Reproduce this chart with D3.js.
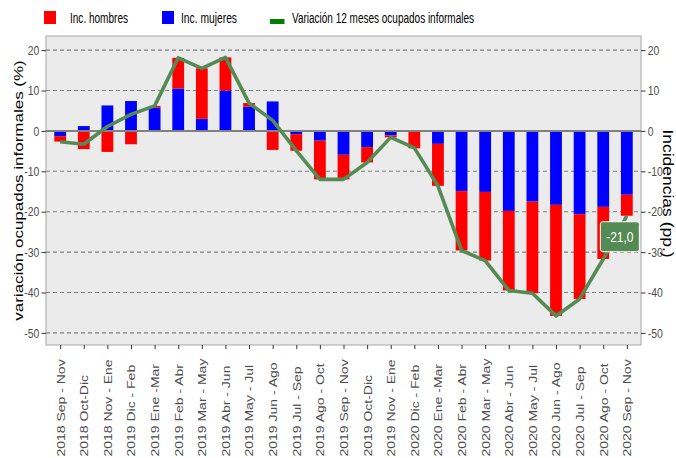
<!DOCTYPE html>
<html>
<head>
<meta charset="utf-8">
<script src="https://cdn.jsdelivr.net/npm/d3@7"></script>
<style>
  body { margin: 0; background: #fff; }
  text { font-family: "Liberation Sans", Arial, sans-serif; }
</style>
</head>
<body>
<div id="grafico"></div>
<script>
const periodos = [
  "2018 Sep - Nov", "2018 Oct-Dic", "2018 Nov - Ene", "2019 Dic - Feb", "2019 Ene -Mar",
  "2019 Feb - Abr", "2019 Mar - May", "2019 Abr - Jun", "2019 May - Jul", "2019 Jun - Ago",
  "2019 Jul - Sep", "2019 Ago - Oct", "2019 Sep - Nov", "2019 Oct-Dic", "2019 Nov - Ene",
  "2020 Dic - Feb", "2020 Ene -Mar", "2020 Feb - Abr", "2020 Mar - May", "2020 Abr - Jun",
  "2020 May - Jul", "2020 Jun - Ago", "2020 Jul - Sep", "2020 Ago - Oct", "2020 Sep - Nov"
];
const incMujeres = [
  -1.3, 1.2, 6.3, 7.4, 5.8, 10.5, 3.0, 10.0, 6.0, 7.3,
  -0.8, -2.4, -5.9, -4.0, -1.1, 0.1, -3.2, -14.9, -15.1, -19.8,
  -17.5, -18.3, -20.6, -18.8, -15.8
];
const incHombres = [
  -1.35, -4.5, -5.2, -3.3, 0.4, 7.6, 12.5, 8.2, 0.9, -4.7,
  -4.1, -9.6, -6.1, -3.8, -0.5, -4.3, -10.4, -14.7, -17.0, -19.7,
  -22.7, -27.5, -21.0, -12.9, -5.2
];
const variacion = [
  -2.7, -3.3, 1.1, 4.1, 6.2, 18.1, 15.5, 18.2, 6.9, 2.6,
  -4.9, -12.0, -12.0, -7.8, -1.6, -4.2, -13.6, -29.6, -32.1, -39.5,
  -40.2, -45.8, -41.6, -31.7, -21.0
];
const ticksY = [20, 10, 0, -10, -20, -30, -40, -50];
const ultimaEtiqueta = "-21,0";

const ancho = 676, alto = 458;
const margen = { top: 36, right: 35, bottom: 113, left: 46 };
const estrecho = 0.8; // el texto horizontal del original sale comprimido

const svg = d3.select("#grafico")
  .append("svg")
  .attr("width", ancho)
  .attr("height", alto);

const x = d3.scalePoint()
  .domain(periodos)
  .range([margen.left, ancho - margen.right])
  .padding(0.6);

const y = d3.scaleLinear()
  .domain([-53, 23.5])
  .range([alto - margen.bottom, margen.top]);

const anchoBarra = x.step() * 0.5;
const centroPanel = (margen.top + alto - margen.bottom) / 2;

// panel
svg.append("rect")
  .attr("x", margen.left)
  .attr("y", margen.top)
  .attr("width", ancho - margen.left - margen.right)
  .attr("height", alto - margen.top - margen.bottom)
  .attr("fill", "#ebebeb")
  .attr("stroke", "#b3b3b3")
  .attr("stroke-width", 1.2);

svg.selectAll("line.grid")
  .data(ticksY.filter(d => d !== 0))
  .enter()
  .append("line")
  .attr("class", "grid")
  .attr("x1", margen.left)
  .attr("x2", ancho - margen.right)
  .attr("y1", d => y(d))
  .attr("y2", d => y(d))
  .attr("stroke", "#7f7f7f")
  .attr("stroke-width", 1.1)
  .attr("stroke-dasharray", "4,3");

// barras apiladas
const filas = periodos.map((p, i) => ({ periodo: p, mujeres: incMujeres[i], hombres: incHombres[i] }));
const series = d3.stack()
  .keys(["mujeres", "hombres"])
  .offset(d3.stackOffsetDiverging)(filas);
const colores = { mujeres: "#0000ff", hombres: "#ff0000" };

svg.selectAll("g.serie")
  .data(series)
  .enter()
  .append("g")
  .attr("class", "serie")
  .attr("fill", d => colores[d.key])
  .selectAll("rect")
  .data(d => d)
  .enter()
  .append("rect")
  .attr("x", d => x(d.data.periodo) - anchoBarra / 2)
  .attr("width", anchoBarra)
  .attr("y", d => y(Math.max(d[0], d[1])))
  .attr("height", d => Math.abs(y(d[0]) - y(d[1])));

// linea del cero
svg.append("line")
  .attr("x1", margen.left)
  .attr("x2", ancho - margen.right)
  .attr("y1", y(0))
  .attr("y2", y(0))
  .attr("stroke", "#808080")
  .attr("stroke-width", 2);

// linea de variacion
const linea = d3.line()
  .x((d, i) => x(periodos[i]))
  .y(d => y(d));

svg.append("path")
  .datum(variacion)
  .attr("d", linea)
  .attr("fill", "none")
  .attr("stroke", "#548b54")
  .attr("stroke-width", 3.6)
  .attr("stroke-linejoin", "round");

// etiqueta ultimo valor
const ultimoX = x(periodos[periodos.length - 1]);
const ultimoY = y(variacion[variacion.length - 1]);
const etiqueta = svg.append("g")
  .attr("transform", `translate(${ultimoX - 7},${ultimoY + 21})`);
etiqueta.append("rect")
  .attr("x", -19.5)
  .attr("y", -15)
  .attr("width", 39)
  .attr("height", 30)
  .attr("rx", 2.5)
  .attr("fill", "#548b54")
  .attr("stroke", "#ffffff")
  .attr("stroke-width", 1);
etiqueta.append("text")
  .attr("text-anchor", "middle")
  .attr("dy", "0.35em")
  .attr("transform", `scale(${estrecho},1)`)
  .attr("fill", "#fff")
  .attr("font-size", "15px")
  .text(ultimaEtiqueta);

// ejes
const formato = d => String(d);
const ejeIzq = svg.append("g")
  .attr("transform", `translate(${margen.left},0)`)
  .call(d3.axisLeft(y).tickValues(ticksY).tickFormat(formato).tickSize(4.5));
const ejeDer = svg.append("g")
  .attr("transform", `translate(${ancho - margen.right},0)`)
  .call(d3.axisRight(y).tickValues(ticksY).tickFormat(formato).tickSize(4.5));
const ejeX = svg.append("g")
  .attr("transform", `translate(0,${alto - margen.bottom})`)
  .call(d3.axisBottom(x).tickSize(4));

[ejeIzq, ejeDer, ejeX].forEach(eje => {
  eje.select(".domain").remove();
  eje.selectAll(".tick line").attr("stroke", "#333333");
  eje.selectAll(".tick text")
    .attr("fill", "#4d4d4d")
    .attr("font-family", "'Liberation Sans', Arial, sans-serif");
});

ejeIzq.selectAll(".tick text")
  .attr("font-size", "13px")
  .attr("x", -6.8 / estrecho)
  .attr("transform", `scale(${estrecho},1)`);
ejeDer.selectAll(".tick text")
  .attr("font-size", "13px")
  .attr("x", 6.8 / estrecho)
  .attr("transform", `scale(${estrecho},1)`);

ejeX.selectAll(".tick text")
  .attr("font-size", "14px")
  .attr("transform", `translate(0,${alto - 1.5 - (alto - margen.bottom)}) scale(${estrecho},1) rotate(-90)`)
  .attr("text-anchor", "start")
  .attr("x", 0)
  .attr("y", 0)
  .attr("dy", "0.35em");

// titulos de ejes
svg.append("text")
  .attr("transform", `translate(18,${centroPanel}) scale(${estrecho},1) rotate(-90)`)
  .attr("text-anchor", "middle")
  .attr("dy", "0.35em")
  .attr("font-size", "17px")
  .attr("fill", "#000")
  .text("variación ocupados informales (%)");

svg.append("text")
  .attr("transform", `translate(668,${centroPanel + 3}) scale(${estrecho},1) rotate(90)`)
  .attr("text-anchor", "middle")
  .attr("dy", "0.35em")
  .attr("font-size", "17.5px")
  .attr("fill", "#000")
  .text("Incidencias (pp.)");

// leyenda
const fuenteLeyenda = "'Liberation Sans', Arial, sans-serif";
const leyenda = svg.append("g").attr("font-size", "14px").attr("font-family", fuenteLeyenda);
leyenda.append("rect").attr("x", 44).attr("y", 11).attr("width", 12).attr("height", 13).attr("fill", "#ff0000");
leyenda.append("text").attr("x", 70).attr("y", 22.5)
  .attr("textLength", 58).attr("lengthAdjust", "spacingAndGlyphs").text("Inc.  hombres");
leyenda.append("rect").attr("x", 162).attr("y", 11).attr("width", 12).attr("height", 13).attr("fill", "#0000ff");
leyenda.append("text").attr("x", 181).attr("y", 22.5)
  .attr("textLength", 56).attr("lengthAdjust", "spacingAndGlyphs").text("Inc.  mujeres");
leyenda.append("rect").attr("x", 270).attr("y", 19).attr("width", 14.5).attr("height", 5).attr("fill", "#008000");
leyenda.append("text").attr("x", 292).attr("y", 22.5)
  .attr("textLength", 182).attr("lengthAdjust", "spacingAndGlyphs").text("Variación 12 meses ocupados informales");
</script>
</body>
</html>
